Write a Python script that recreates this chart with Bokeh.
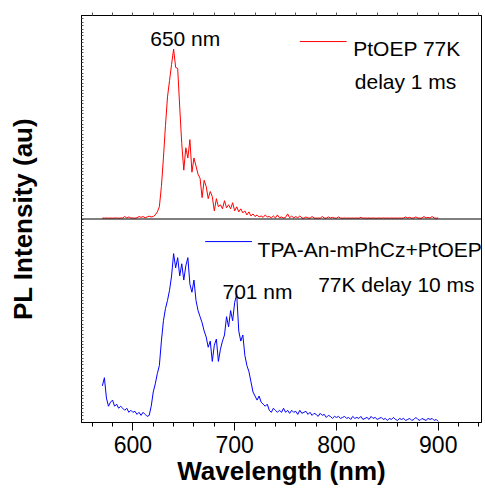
import numpy as np
from bokeh.plotting import figure
from bokeh.models import (Range1d, LinearAxis, SingleIntervalTicker, FixedTicker,
                          Span, Label, ColumnDataSource)
from bokeh.embed import file_html
from bokeh.resources import INLINE

# wavelength grid (nm), 2 nm steps
wavelength = list(range(570, 902, 2))

# PtOEP 77K, delay 1 ms (normalised intensity, top panel)
ptoep = [
    0.005, 0.004, 0.005, 0.004, 0.005, 0.004, 0.005, 0.005, 0.004, 0.005,
    0.005, 0.012, 0.005, 0.010, 0.005, 0.005, 0.004, 0.006, 0.012, 0.008,
    0.012, 0.006, 0.010, 0.014, 0.010, 0.012, 0.020, 0.035, 0.060, 0.160,
    0.300, 0.460, 0.600, 0.680, 0.760, 0.835, 0.745, 0.740, 0.550, 0.370,
    0.240, 0.350, 0.300, 0.390, 0.230, 0.300, 0.260, 0.220, 0.200, 0.105,
    0.190, 0.160, 0.100, 0.135, 0.110, 0.040, 0.100, 0.060, 0.070, 0.050,
    0.090, 0.055, 0.070, 0.050, 0.080, 0.040, 0.060, 0.035, 0.050, 0.030,
    0.040, 0.020, 0.035, 0.015, 0.025, 0.012, 0.020, 0.010, 0.015, 0.008,
    0.020, 0.010, 0.012, 0.006, 0.015, 0.005, 0.020, 0.006, 0.010, 0.005,
    0.008, 0.025, 0.006, 0.015, 0.005, 0.012, 0.006, 0.015, 0.005, 0.004,
    0.010, 0.005, 0.004, 0.012, 0.005, 0.004, 0.005, 0.004, 0.012, 0.005,
    0.004, 0.010, 0.005, 0.008, 0.005, 0.004, 0.010, 0.005, 0.004, 0.005,
    0.004, 0.005, 0.004, 0.005, 0.004, 0.005, 0.004, 0.008, 0.004, 0.005,
    0.004, 0.005, 0.004, 0.005, 0.004, 0.004, 0.005, 0.004, 0.005, 0.004,
    0.005, 0.004, 0.005, 0.004, 0.005, 0.004, 0.005, 0.004, 0.005, 0.010,
    0.005, 0.008, 0.004, 0.005, 0.010, 0.005, 0.004, 0.005, 0.012, 0.005,
    0.008, 0.005, 0.012, 0.005, 0.004, 0.005,
]

# TPA-An-mPhCz+PtOEP 77K, delay 10 ms (normalised intensity, bottom panel)
blend = [
    0.18, 0.22, 0.12, 0.08, 0.10, 0.11, 0.08, 0.09, 0.07, 0.08,
    0.07, 0.06, 0.07, 0.05, 0.06, 0.05, 0.055, 0.04, 0.05, 0.035,
    0.05, 0.04, 0.03, 0.035, 0.08, 0.15, 0.19, 0.24, 0.28, 0.40,
    0.50, 0.56, 0.60, 0.65, 0.72, 0.83, 0.76, 0.81, 0.72, 0.78,
    0.70, 0.77, 0.81, 0.68, 0.64, 0.70, 0.60, 0.55, 0.52, 0.49,
    0.45, 0.42, 0.37, 0.40, 0.30, 0.38, 0.41, 0.30, 0.36, 0.40,
    0.43, 0.52, 0.47, 0.55, 0.50, 0.59, 0.63, 0.45, 0.40, 0.43,
    0.33, 0.28, 0.25, 0.20, 0.15, 0.13, 0.11, 0.13, 0.10, 0.09,
    0.08, 0.09, 0.06, 0.05, 0.07, 0.06, 0.05, 0.06, 0.05, 0.07,
    0.05, 0.06, 0.045, 0.06, 0.05, 0.055, 0.04, 0.06, 0.045, 0.05,
    0.055, 0.04, 0.05, 0.035, 0.045, 0.04, 0.03, 0.045, 0.035, 0.04,
    0.025, 0.035, 0.03, 0.02, 0.03, 0.025, 0.03, 0.02, 0.025, 0.03,
    0.02, 0.025, 0.015, 0.03, 0.02, 0.025, 0.02, 0.03, 0.015, 0.02,
    0.025, 0.015, 0.03, 0.02, 0.025, 0.015, 0.02, 0.025, 0.015, 0.02,
    0.01, 0.02, 0.015, 0.025, 0.015, 0.01, 0.02, 0.015, 0.02, 0.01,
    0.015, 0.02, 0.01, 0.015, 0.025, 0.015, 0.01, 0.02, 0.015, 0.01,
    0.02, 0.015, 0.02, 0.01, 0.015, 0.005,
]

legend_top = "PtOEP 77K"
note_top = "delay 1 ms"
peak_top = "650 nm"
legend_bottom = "TPA-An-mPhCz+PtOEP"
note_bottom = "77K delay 10 ms"
peak_bottom = "701 nm"

FONT = "Liberation Sans"

p = figure(width=485, height=491, output_backend="svg", toolbar_location=None,
           x_range=Range1d(549.5, 942.5), y_range=Range1d(0, 2),
           min_border_left=81, min_border_right=4, min_border_top=15,
           min_border_bottom=69)
p.extra_y_ranges = {"top": Range1d(-1, 1)}
p.grid.visible = False
p.background_fill_color = "white"
p.border_fill_color = "white"
p.outline_line_color = "black"
p.outline_line_width = 1

# x axis
xa = p.xaxis[0]
xa.ticker = SingleIntervalTicker(interval=100, num_minor_ticks=5)
xa.axis_label = "Wavelength (nm)"
xa.axis_label_text_font = FONT
xa.axis_label_text_font_style = "bold"
xa.axis_label_text_font_size = "26px"
xa.axis_label_text_color = "black"
xa.axis_label_standoff = 0
xa.major_label_text_font = FONT
xa.major_label_text_font_size = "23px"
xa.major_label_text_color = "black"
xa.major_label_standoff = 5
xa.major_tick_out = 8
xa.major_tick_in = 0
xa.minor_tick_out = 4
xa.minor_tick_in = 0
xa.axis_line_color = "black"
xa.major_tick_line_color = "black"
xa.minor_tick_line_color = "black"

# y axis: no values, only small inner ticks (all minor, so no labels drawn)
ya = p.yaxis[0]
ya.ticker = FixedTicker(ticks=[], minor_ticks=[i / 60 for i in range(1, 120)])
ya.axis_label = "PL Intensity (au)"
ya.axis_label_text_font = FONT
ya.axis_label_text_font_style = "bold"
ya.axis_label_text_font_size = "26px"
ya.axis_label_text_color = "black"
ya.axis_label_standoff = 44
ya.major_label_standoff = 0
ya.major_tick_in = 0
ya.major_tick_out = 0
ya.minor_tick_in = 2
ya.minor_tick_out = 0
ya.minor_tick_line_color = "#555555"
ya.axis_line_color = "black"

# top axis: ticks only
ta = LinearAxis(ticker=FixedTicker(ticks=[], minor_ticks=list(range(560, 950, 20))),
                major_label_standoff=0, major_tick_out=0, major_tick_in=0,
                minor_tick_out=3, minor_tick_in=0, minor_tick_line_color="#555555",
                axis_line_color="black")
p.add_layout(ta, "above")

# panel separator
p.add_layout(Span(location=1, dimension="width", line_color="black", line_width=1))

src = ColumnDataSource(dict(x=wavelength, top=ptoep, bottom=blend))
p.line("x", "top", source=src, color="#ff0000", line_width=1, y_range_name="top")
p.line("x", "bottom", source=src, color="#0000ff", line_width=1)

# legend keys
p.line([764, 810], [0.872, 0.872], color="#ff0000", line_width=1, y_range_name="top")
p.line([671, 717], [0.889, 0.889], color="#0000ff", line_width=1)


def lab(x, y, text, rng="default"):
    p.add_layout(Label(x=x, y=y, text=text, text_font=FONT, text_font_size="21px",
                       text_color="black", text_baseline="alphabetic",
                       text_align="left", y_range_name=rng))


lab(617, 0.885, peak_top, "top")
lab(816.5, 0.836, legend_top, "top")
lab(818, 0.675, note_top, "top")
lab(722.5, 0.851, legend_bottom)
lab(782, 0.68, note_bottom)
lab(688, 0.642, peak_bottom)

open("out.html", "w").write(file_html(p, INLINE))
